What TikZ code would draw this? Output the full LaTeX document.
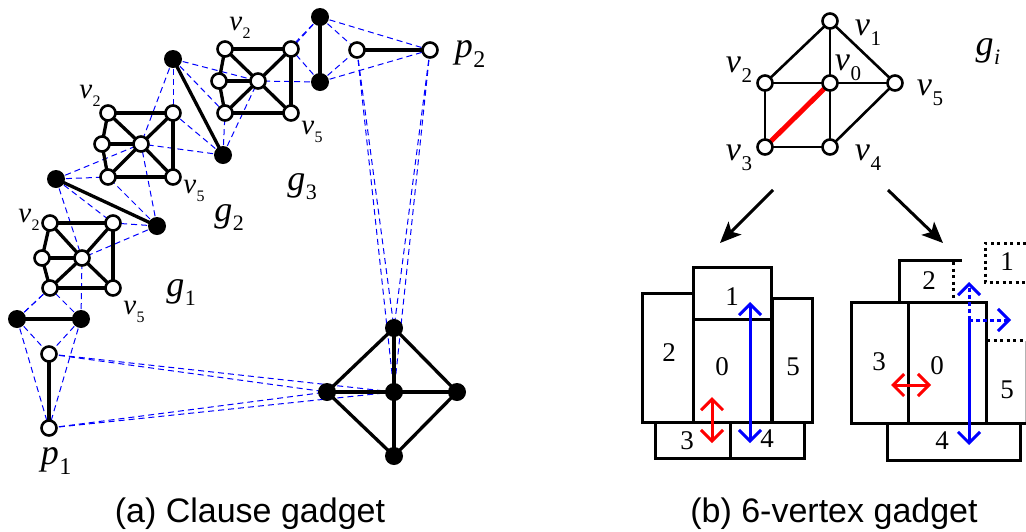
\documentclass[tikz,border=0pt]{standalone}
\usepackage{fontspec}
\setmainfont{Liberation Serif}
\newfontfamily\capfont{Liberation Sans}
\usetikzlibrary{arrows.meta}
\newcommand\lab[5]{{\fontsize{#3}{#3}\selectfont\textit{#1}}\kern0.5pt\raisebox{-#5pt}{\fontsize{#4}{#4}\selectfont #2}}
\newcommand\sv[1]{\lab{v}{#1}{29}{16}{8}}
\newcommand\bv[1]{\lab{v}{#1}{34}{21}{10}}
\newcommand\glab[1]{\lab{g}{#1}{36}{22}{9}}
\newcommand\plab[1]{\lab{p}{#1}{36}{24}{10}}
\tikzset{
  wn/.style={circle, draw=black, fill=white, line width=2.6pt, minimum size=15pt, inner sep=0pt},
  bn/.style={circle, fill=black, minimum size=18pt, inner sep=0pt},
  ed/.style={line width=3.3pt},
  ged/.style={line width=2.6pt},
  bd/.style={blue, line width=1pt, dash pattern=on 6pt off 4pt},
  lb/.style={inner sep=0pt, anchor=center},
  rc/.style={line width=3pt, line join=miter},
  kd/.style={line width=3pt, dash pattern=on 3pt off 3.5pt},
  num/.style={inner sep=0pt, font=\fontsize{27}{27}\selectfont},
  dar/.style={line width=3pt, {Straight Barb[length=11pt,width=22pt]}-{Straight Barb[length=11pt,width=22pt]}},
  sar/.style={line width=3pt, -{Straight Barb[length=11pt,width=22pt]}},
  big/.style={line width=3pt, -{Stealth[length=21pt,width=18pt,inset=5pt]}},
  captext/.style={inner sep=0pt, font=\capfont\fontsize{34}{34}\selectfont},
}
\begin{document}
\begin{tikzpicture}[x=1pt,y=-1pt]
\useasboundingbox (0,0) rectangle (1026,531);
% ---------- (a) nodes ----------
\foreach \n/\x/\y in {a2/50/223,a1/113/223,a3/42/258,a0/82/258,a4/50/288,a5/113/288,
  b2/108/113,b1/173/113,b3/102/144,b0/141/144,b4/108/177,b5/173/177,
  c2/225/49,c1/291/49,c3/219/81,c0/258/81,c4/225/113,c5/291/113,
  pc/49/354,pa/49/428,pk/357/50,pl/430/50}
  \coordinate (\n) at (\x,\y);
\foreach \n/\x/\y in {A/17/319,B/81/319,E/56/179,F/157/226,G/173/59,H/223/155,I/320/17,J/320/82,
  dt/394/328,dc/394/392,dl/327/392,dr/457/392,db/394/456}
  \coordinate (\n) at (\x,\y);
% dashed blue
\foreach \u/\v in {A/pc,B/pc,A/pa,B/pa,A/a4,A/a0,B/a4,B/a0,
  E/a1,E/a0,F/a1,F/a0,E/b4,E/b0,F/b4,F/b0,
  G/b1,G/b0,H/b1,H/b0,G/c4,G/c0,H/c4,H/c0,
  I/c1,I/c0,J/c1,J/c0,I/pk,J/pk,I/pl,J/pl,
  pc/dl,pc/dc,pa/dl,pa/dc,pk/dt,pk/dc,pl/dt,pl/dc}
  \draw[bd] (\u) -- (\v);
% solid edges
\foreach \u/\v in {A/B,pc/pa,E/F,G/H,I/J,pk/pl,
  dt/dl,dt/dr,dt/dc,dl/dc,dc/dr,dc/db,dl/db,dr/db}
  \draw[ed] (\u) -- (\v);
\foreach \p in {a,b,c}
  \foreach \u/\v in {2/1,2/3,2/0,3/0,3/4,4/0,4/5,0/1,0/5,1/5}
    \draw[ed] (\p\u) -- (\p\v);
% node discs
\foreach \n in {a2,a1,a3,a0,a4,a5,b2,b1,b3,b0,b4,b5,c2,c1,c3,c0,c4,c5,pc,pa,pk,pl}
  \node[wn] (n\n) at (\n) {};
\foreach \n in {A,B,E,F,G,H,I,J,dt,dc,dl,dr,db}
  \node[bn] (n\n) at (\n) {};
% labels (a)
\node[lb] (la2) at (29,220) {\sv{2}};
\node[lb] (la5) at (134,312) {\sv{5}};
\node[lb] (lg1) at (181,293) {\glab{1}};
\node[lb] (lb2) at (90,96) {\sv{2}};
\node[lb] (lb5) at (194,191) {\sv{5}};
\node[lb] (lg2) at (229,218) {\glab{2}};
\node[lb] (lc2) at (240,28) {\sv{2}};
\node[lb] (lc5) at (312,132) {\sv{5}};
\node[lb] (lg3) at (302,187) {\glab{3}};
\node[lb] (lp1) at (56,461) {\plab{1}};
\node[lb] (lp2) at (470,54) {\plab{2}};
% ---------- (b) g_i ----------
\foreach \n/\x/\y in {q1/830/21,q2/765/83,q0/830/83,q5/895/83,q3/765/147,q4/830/147}
  \coordinate (\n) at (\x,\y);
\foreach \u/\v in {q1/q2,q1/q0,q1/q5,q2/q0,q0/q5,q2/q3,q0/q4,q3/q4,q4/q5}
  \draw[ged] (\u) -- (\v);
\draw[red, line width=5pt] (q3) -- (q0);
\foreach \n in {q1,q2,q0,q5,q3,q4}
  \node[wn] (n\n) at (\n) {};
\node[lb] (lq1) at (868,33) {\bv{1}};
\node[lb] (lq0) at (848,68) {\bv{0}};
\node[lb] (lq2) at (739,70) {\bv{2}};
\node[lb] (lq5) at (930,93) {\bv{5}};
\node[lb] (lq3) at (739,158) {\bv{3}};
\node[lb] (lq4) at (868,158) {\bv{4}};
\node[lb] (lgi) at (988,52) {\lab{g}{\textit{i}}{36}{22}{9}};
% big arrows
\coordinate (s1) at (773,190); \coordinate (t1) at (720,243);
\coordinate (s2) at (888,190); \coordinate (t2) at (943,243);
\draw[big] (s1) -- (t1);
\draw[big] (s2) -- (t2);
% ---------- left rectangles ----------
\draw[rc] (642,293) rectangle (693,422);
\draw[rc] (693,267) rectangle (771,319);
\draw[rc] (693,319) rectangle (771,422);
\draw[rc] (772,298) rectangle (812,422);
\draw[rc] (655,422) rectangle (730,458);
\draw[rc] (730,422) rectangle (804,458);
\node[num] (r1) at (732,297) {1};
\node[num] (r2) at (669,353) {2};
\node[num] (r0) at (722,367) {0};
\node[num] (r5) at (793,367) {5};
\node[num] (r3) at (687,441) {3};
\node[num] (r4) at (767,439) {4};
\coordinate (ra1) at (712,397); \coordinate (ra2) at (712,443);
\coordinate (ba1) at (750,302); \coordinate (ba2) at (750,443);
\draw[dar, red] (ra1) -- (ra2);
\draw[dar, blue] (ba1) -- (ba2);
% ---------- right rectangles ----------
\draw[rc] (899,302) -- (899,260) -- (962,260);
\draw[kd] (953,262) -- (953,302);
\draw[rc] (851,302) rectangle (908,423);
\draw[rc] (908,302) rectangle (986,423);
\draw[rc] (986,423) -- (1026,423);
\draw[rc] (887,423) rectangle (1020,460);
\draw[kd] (987,340) -- (1026,340);
\draw[gray!60, line width=1pt] (1025,341) -- (1025,422);
\draw[kd] (1026,243) -- (985,243) -- (985,282) -- (1026,282);
\node[num] (s2n) at (929,281) {2};
\node[num] (s3n) at (879,362) {3};
\node[num] (s0n) at (937,366) {0};
\node[num] (s5n) at (1007,390) {5};
\node[num] (s4n) at (942,441) {4};
\node[num] (s1n) at (1007,262) {1};
\coordinate (rr1) at (891,385); \coordinate (rr2) at (931,385);
\draw[dar, red] (rr1) -- (rr2);
\coordinate (bj) at (969,320); \coordinate (bb) at (969,445);
\coordinate (bt) at (969,282); \coordinate (br) at (1011,320);
\draw[sar, blue] (bj) -- (bb);
\draw[sar, blue, dash pattern=on 4pt off 3pt] (bj) -- (bt);
\draw[sar, blue, dash pattern=on 4pt off 3pt] (bj) -- (br);
% captions
\node[captext] (capa) at (250,514) {(a) Clause gadget};
\node[captext] (capb) at (834,514) {(b) 6-vertex gadget};
\end{tikzpicture}
\end{document}
